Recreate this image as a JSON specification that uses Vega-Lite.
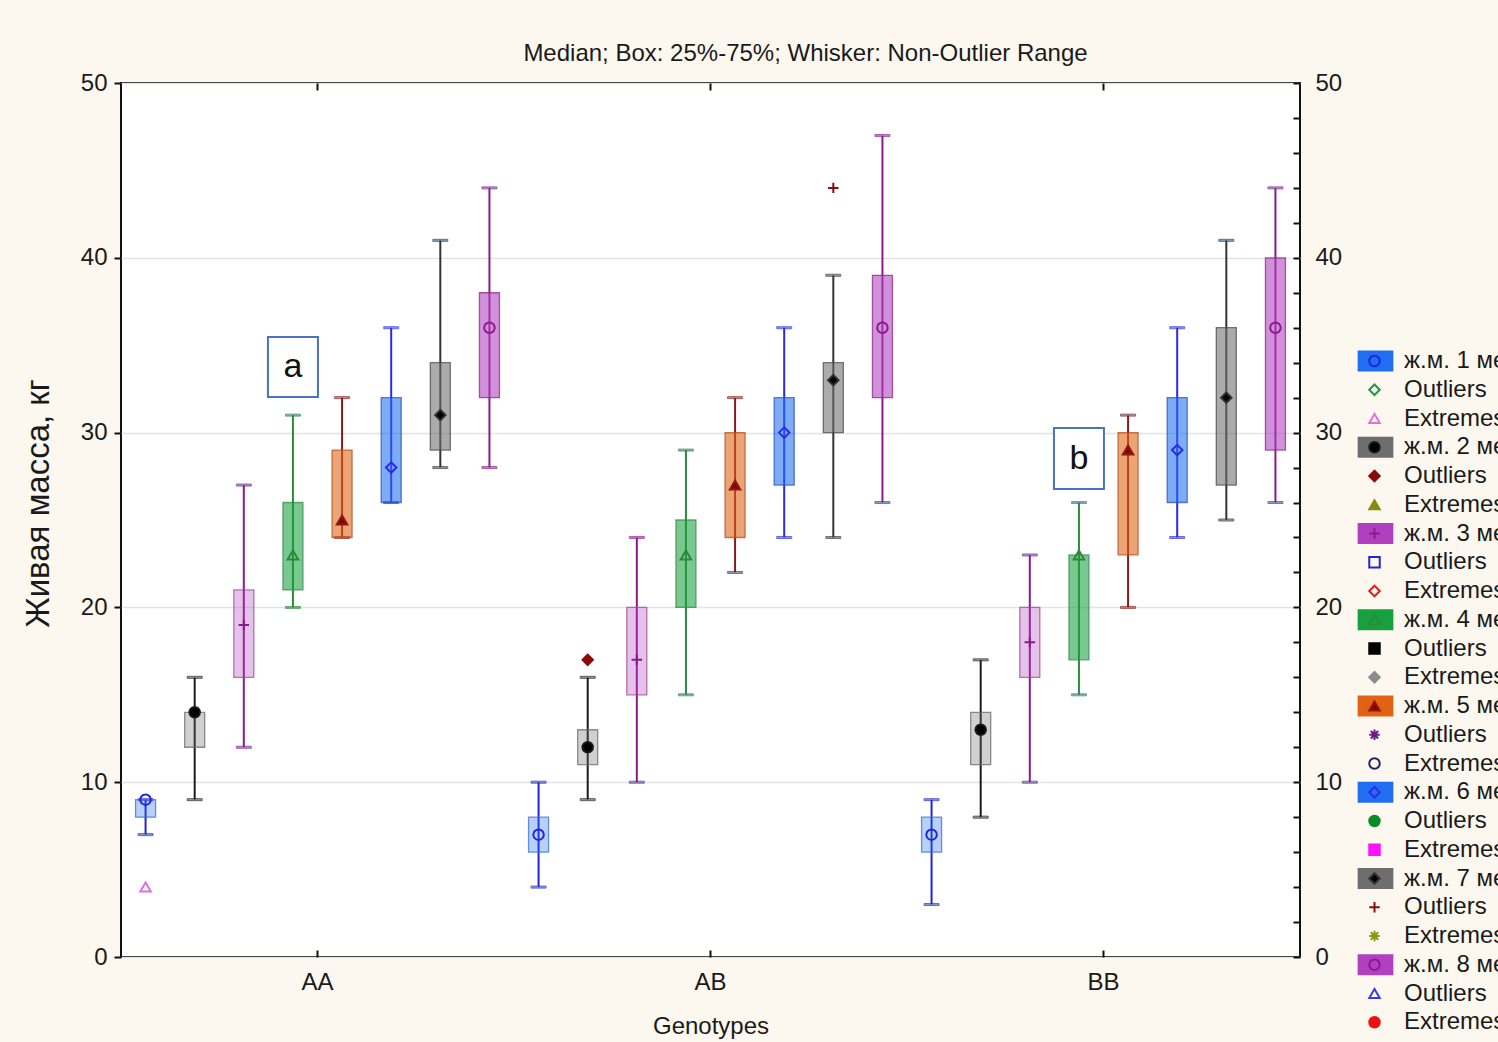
{
"$schema": "https://vega.github.io/schema/vega-lite/v6.json",
"width": 1179,
"height": 874,
"autosize": {"type": "none"},
"padding": {"left": 121, "top": 83, "right": 198, "bottom": 85},
"background": "#fcf8ef",
"title": {"text": "Median; Box: 25%-75%; Whisker: Non-Outlier Range", "anchor": "middle", "dx": 95, "dy": 36, "offset": 22, "baseline": "alphabetic", "fontSize": 24, "fontWeight": "normal", "font": "Liberation Sans", "color": "#1a1a1a"},
"config": {
  "view": {"fill": "#ffffff", "stroke": "#111111", "strokeWidth": 2},
  "axis": {"labelFont": "Liberation Sans", "titleFont": "Liberation Sans", "labelFontSize": 24, "titleFontSize": 24, "titleFontWeight": "normal", "labelColor": "#1a1a1a", "titleColor": "#1a1a1a", "tickColor": "#111111", "tickWidth": 2, "domain": false},
  "legend": {"labelFont": "Liberation Sans", "labelFontSize": 24, "labelColor": "#1a1a1a", "rowPadding": 4.75, "padding": 0, "symbolLimit": 40, "labelLimit": 400}
},
"datasets": {
  "boxes": [
    {"g":"AA","s":"ж.м. 1 мес.","lo":7,"q1":8,"q3":9,"hi":9},
    {"g":"AA","s":"ж.м. 2 мес.","lo":9,"q1":12,"q3":14,"hi":16},
    {"g":"AA","s":"ж.м. 3 мес.","lo":12,"q1":16,"q3":21,"hi":27},
    {"g":"AA","s":"ж.м. 4 мес.","lo":20,"q1":21,"q3":26,"hi":31},
    {"g":"AA","s":"ж.м. 5 мес.","lo":24,"q1":24,"q3":29,"hi":32},
    {"g":"AA","s":"ж.м. 6 мес.","lo":26,"q1":26,"q3":32,"hi":36},
    {"g":"AA","s":"ж.м. 7 мес.","lo":28,"q1":29,"q3":34,"hi":41},
    {"g":"AA","s":"ж.м. 8 мес.","lo":28,"q1":32,"q3":38,"hi":44},
    {"g":"AB","s":"ж.м. 1 мес.","lo":4,"q1":6,"q3":8,"hi":10},
    {"g":"AB","s":"ж.м. 2 мес.","lo":9,"q1":11,"q3":13,"hi":16},
    {"g":"AB","s":"ж.м. 3 мес.","lo":10,"q1":15,"q3":20,"hi":24},
    {"g":"AB","s":"ж.м. 4 мес.","lo":15,"q1":20,"q3":25,"hi":29},
    {"g":"AB","s":"ж.м. 5 мес.","lo":22,"q1":24,"q3":30,"hi":32},
    {"g":"AB","s":"ж.м. 6 мес.","lo":24,"q1":27,"q3":32,"hi":36},
    {"g":"AB","s":"ж.м. 7 мес.","lo":24,"q1":30,"q3":34,"hi":39},
    {"g":"AB","s":"ж.м. 8 мес.","lo":26,"q1":32,"q3":39,"hi":47},
    {"g":"BB","s":"ж.м. 1 мес.","lo":3,"q1":6,"q3":8,"hi":9},
    {"g":"BB","s":"ж.м. 2 мес.","lo":8,"q1":11,"q3":14,"hi":17},
    {"g":"BB","s":"ж.м. 3 мес.","lo":10,"q1":16,"q3":20,"hi":23},
    {"g":"BB","s":"ж.м. 4 мес.","lo":15,"q1":17,"q3":23,"hi":26},
    {"g":"BB","s":"ж.м. 5 мес.","lo":20,"q1":23,"q3":30,"hi":31},
    {"g":"BB","s":"ж.м. 6 мес.","lo":24,"q1":26,"q3":32,"hi":36},
    {"g":"BB","s":"ж.м. 7 мес.","lo":25,"q1":27,"q3":36,"hi":41},
    {"g":"BB","s":"ж.м. 8 мес.","lo":26,"q1":29,"q3":40,"hi":44}
  ],
  "pts": [
    {"g":"AA","s":"ж.м. 1 мес.","k":"ж.м. 1 мес.","v":9},
    {"g":"AA","s":"ж.м. 2 мес.","k":"ж.м. 2 мес.","v":14},
    {"g":"AA","s":"ж.м. 3 мес.","k":"ж.м. 3 мес.","v":19},
    {"g":"AA","s":"ж.м. 4 мес.","k":"ж.м. 4 мес.","v":23},
    {"g":"AA","s":"ж.м. 5 мес.","k":"ж.м. 5 мес.","v":25},
    {"g":"AA","s":"ж.м. 6 мес.","k":"ж.м. 6 мес.","v":28},
    {"g":"AA","s":"ж.м. 7 мес.","k":"ж.м. 7 мес.","v":31},
    {"g":"AA","s":"ж.м. 8 мес.","k":"ж.м. 8 мес.","v":36},
    {"g":"AB","s":"ж.м. 1 мес.","k":"ж.м. 1 мес.","v":7},
    {"g":"AB","s":"ж.м. 2 мес.","k":"ж.м. 2 мес.","v":12},
    {"g":"AB","s":"ж.м. 3 мес.","k":"ж.м. 3 мес.","v":17},
    {"g":"AB","s":"ж.м. 4 мес.","k":"ж.м. 4 мес.","v":23},
    {"g":"AB","s":"ж.м. 5 мес.","k":"ж.м. 5 мес.","v":27},
    {"g":"AB","s":"ж.м. 6 мес.","k":"ж.м. 6 мес.","v":30},
    {"g":"AB","s":"ж.м. 7 мес.","k":"ж.м. 7 мес.","v":33},
    {"g":"AB","s":"ж.м. 8 мес.","k":"ж.м. 8 мес.","v":36},
    {"g":"BB","s":"ж.м. 1 мес.","k":"ж.м. 1 мес.","v":7},
    {"g":"BB","s":"ж.м. 2 мес.","k":"ж.м. 2 мес.","v":13},
    {"g":"BB","s":"ж.м. 3 мес.","k":"ж.м. 3 мес.","v":18},
    {"g":"BB","s":"ж.м. 4 мес.","k":"ж.м. 4 мес.","v":23},
    {"g":"BB","s":"ж.м. 5 мес.","k":"ж.м. 5 мес.","v":29},
    {"g":"BB","s":"ж.м. 6 мес.","k":"ж.м. 6 мес.","v":29},
    {"g":"BB","s":"ж.м. 7 мес.","k":"ж.м. 7 мес.","v":32},
    {"g":"BB","s":"ж.м. 8 мес.","k":"ж.м. 8 мес.","v":36},
    {"g":"AA","s":"ж.м. 1 мес.","k":"e1","v":4},
    {"g":"AB","s":"ж.м. 2 мес.","k":"o2","v":17},
    {"g":"AB","s":"ж.м. 7 мес.","k":"o7","v":44}
  ],
  "notes": [
    {"g":"AA","s":"ж.м. 4 мес.","lo":32.04,"hi":35.47,"mid":33.75,"label":"a"},
    {"g":"BB","s":"ж.м. 4 мес.","lo":26.77,"hi":30.26,"mid":28.5,"label":"b"}
  ]
},
"resolve": {
  "scale": {"stroke": "independent"},
  "legend": {"shape": "independent", "fill": "independent", "stroke": "independent"},
  "axis": {"x": "independent", "y": "independent"}
},
"layer": [
  {
    "data": {"name": "boxes"},
    "mark": {"type": "rule", "strokeWidth": 2},
    "encoding": {
      "x": {"field": "g", "type": "nominal", "scale": {"domain": ["AA","AB","BB"], "paddingInner": 0, "paddingOuter": 0}, "axis": {"orient": "bottom", "labelAngle": 0, "tickSize": -7, "labelPadding": 20, "title": "Genotypes", "titlePadding": 20}},
      "xOffset": {"field": "s", "type": "nominal", "scale": {"domain": ["ж.м. 1 мес.","ж.м. 2 мес.","ж.м. 3 мес.","ж.м. 4 мес.","ж.м. 5 мес.","ж.м. 6 мес.","ж.м. 7 мес.","ж.м. 8 мес."], "paddingInner": 0, "paddingOuter": 0}},
      "y": {"field": "lo", "type": "quantitative", "scale": {"domain": [0, 50], "nice": false}, "axis": {"orient": "left", "values": [0,10,20,30,40,50], "tickSize": 7, "labelPadding": 7, "grid": true, "gridColor": "#e3e3e3", "gridWidth": 1.5, "title": "Живая масса, кг", "titleFontSize": 33, "titlePadding": 25, "titleY": 420}},
      "y2": {"field": "hi"},
      "stroke": {"field": "s", "type": "nominal", "scale": {"domain": ["ж.м. 1 мес.","ж.м. 2 мес.","ж.м. 3 мес.","ж.м. 4 мес.","ж.м. 5 мес.","ж.м. 6 мес.","ж.м. 7 мес.","ж.м. 8 мес."], "range": ["#2323d8","#1a1a1a","#8b1a8b","#2a8a3a","#8b1a1a","#2a2ae8","#333333","#8b1a8b"]}, "legend": null}
    }
  },
  {
    "data": {"name": "boxes"},
    "mark": {"type": "tick", "thickness": 2, "size": 15},
    "encoding": {
      "x": {"field": "g", "type": "nominal", "scale": {"domain": ["AA","AB","BB"], "paddingInner": 0, "paddingOuter": 0}, "axis": null},
      "xOffset": {"field": "s", "type": "nominal", "scale": {"domain": ["ж.м. 1 мес.","ж.м. 2 мес.","ж.м. 3 мес.","ж.м. 4 мес.","ж.м. 5 мес.","ж.м. 6 мес.","ж.м. 7 мес.","ж.м. 8 мес."], "paddingInner": 0, "paddingOuter": 0}},
      "y": {"field": "lo", "type": "quantitative", "scale": {"domain": [0, 50], "nice": false}, "axis": null},
      "stroke": {"field": "s", "type": "nominal", "scale": {"domain": ["ж.м. 1 мес.","ж.м. 2 мес.","ж.м. 3 мес.","ж.м. 4 мес.","ж.м. 5 мес.","ж.м. 6 мес.","ж.м. 7 мес.","ж.м. 8 мес."], "range": ["#2323d8","#1a1a1a","#8b1a8b","#2a8a3a","#8b1a1a","#2a2ae8","#333333","#8b1a8b"]}, "legend": null}
    }
  },
  {
    "data": {"name": "boxes"},
    "mark": {"type": "tick", "thickness": 2, "size": 15},
    "encoding": {
      "x": {"field": "g", "type": "nominal", "scale": {"domain": ["AA","AB","BB"], "paddingInner": 0, "paddingOuter": 0}, "axis": {"orient": "top", "labels": false, "tickSize": -7, "title": null, "grid": false}},
      "xOffset": {"field": "s", "type": "nominal", "scale": {"domain": ["ж.м. 1 мес.","ж.м. 2 мес.","ж.м. 3 мес.","ж.м. 4 мес.","ж.м. 5 мес.","ж.м. 6 мес.","ж.м. 7 мес.","ж.м. 8 мес."], "paddingInner": 0, "paddingOuter": 0}},
      "y": {"field": "hi", "type": "quantitative", "scale": {"domain": [0, 50], "nice": false}, "axis": {"orient": "right", "values": [0,2,4,6,8,10,12,14,16,18,20,22,24,26,28,30,32,34,36,38,40,42,44,46,48,50], "labelExpr": "datum.value % 10 == 0 ? datum.label : ''", "tickSize": -7, "labelPadding": 22, "title": null, "grid": false}},
      "stroke": {"field": "s", "type": "nominal", "scale": {"domain": ["ж.м. 1 мес.","ж.м. 2 мес.","ж.м. 3 мес.","ж.м. 4 мес.","ж.м. 5 мес.","ж.м. 6 мес.","ж.м. 7 мес.","ж.м. 8 мес."], "range": ["#2323d8","#1a1a1a","#8b1a8b","#2a8a3a","#8b1a1a","#2a2ae8","#333333","#8b1a8b"]}, "legend": null}
    }
  },
  {
    "data": {"name": "boxes"},
    "mark": {"type": "bar", "width": 20},
    "encoding": {
      "x": {"field": "g", "type": "nominal", "scale": {"domain": ["AA","AB","BB"], "paddingInner": 0, "paddingOuter": 0}, "axis": null},
      "xOffset": {"field": "s", "type": "nominal", "scale": {"domain": ["ж.м. 1 мес.","ж.м. 2 мес.","ж.м. 3 мес.","ж.м. 4 мес.","ж.м. 5 мес.","ж.м. 6 мес.","ж.м. 7 мес.","ж.м. 8 мес."], "paddingInner": 0, "paddingOuter": 0}},
      "y": {"field": "q1", "type": "quantitative", "scale": {"domain": [0, 50], "nice": false}, "axis": null},
      "y2": {"field": "q3"},
      "fillOpacity": {"condition": {"test": "indexof(['ж.м. 1 мес.','ж.м. 2 мес.','ж.м. 3 мес.'], datum.s) >= 0", "value": 0.32}, "value": 0.58},
      "color": {
        "field": "s", "type": "nominal",
        "scale": {
          "domain": ["ж.м. 1 мес.","Outliers 1","Extremes 1","ж.м. 2 мес.","Outliers 2","Extremes 2","ж.м. 3 мес.","Outliers 3","Extremes 3","ж.м. 4 мес.","Outliers 4","Extremes 4","ж.м. 5 мес.","Outliers 5","Extremes 5","ж.м. 6 мес.","Outliers 6","Extremes 6","ж.м. 7 мес.","Outliers 7","Extremes 7","ж.м. 8 мес.","Outliers 8","Extremes 8"],
          "range": ["#1f6ff0","transparent","transparent","#6e6e6e","transparent","transparent","#b040c0","transparent","transparent","#17a03e","transparent","transparent","#e06212","transparent","transparent","#1f6ff0","transparent","transparent","#6e6e6e","transparent","transparent","#b040c0","transparent","transparent"]
        },
        "legend": {
          "orient": "none", "legendX": 1242.5, "legendY": 266, "title": null, "rowPadding": 4.75,
          "symbolType": "M-1.7,-1H1.7V1H-1.7Z", "symbolSize": 441, "symbolStrokeWidth": 0, "symbolOpacity": 1, "labelOffset": 16.5,
          "labelExpr": "indexof(datum.label,'ж') == 0 ? datum.label : split(datum.label,' ')[0]"
        }
      }
    }
  },
  {
    "data": {"name": "boxes"},
    "mark": {"type": "bar", "width": 20, "fill": "transparent", "strokeWidth": 1.3, "strokeOpacity": 0.75},
    "encoding": {
      "x": {"field": "g", "type": "nominal", "scale": {"domain": ["AA","AB","BB"], "paddingInner": 0, "paddingOuter": 0}, "axis": null},
      "xOffset": {"field": "s", "type": "nominal", "scale": {"domain": ["ж.м. 1 мес.","ж.м. 2 мес.","ж.м. 3 мес.","ж.м. 4 мес.","ж.м. 5 мес.","ж.м. 6 мес.","ж.м. 7 мес.","ж.м. 8 мес."], "paddingInner": 0, "paddingOuter": 0}},
      "y": {"field": "q1", "type": "quantitative", "scale": {"domain": [0, 50], "nice": false}, "axis": null},
      "y2": {"field": "q3"},
      "stroke": {"field": "s", "type": "nominal", "scale": {"domain": ["ж.м. 1 мес.","ж.м. 2 мес.","ж.м. 3 мес.","ж.м. 4 мес.","ж.м. 5 мес.","ж.м. 6 мес.","ж.м. 7 мес.","ж.м. 8 мес."], "range": ["#3a6fd0","#6a6a6a","#9a4a9a","#3a8a50","#b05020","#2a50c0","#4a4a4a","#8b2a8b"]}, "legend": null}
    }
  },
  {
    "data": {"name": "pts"},
    "mark": {"type": "point", "size": 110, "strokeWidth": 2, "opacity": 1},
    "encoding": {
      "x": {"field": "g", "type": "nominal", "scale": {"domain": ["AA","AB","BB"], "paddingInner": 0, "paddingOuter": 0}, "axis": null},
      "xOffset": {"field": "s", "type": "nominal", "scale": {"domain": ["ж.м. 1 мес.","ж.м. 2 мес.","ж.м. 3 мес.","ж.м. 4 мес.","ж.м. 5 мес.","ж.м. 6 мес.","ж.м. 7 мес.","ж.м. 8 мес."], "paddingInner": 0, "paddingOuter": 0}},
      "y": {"field": "v", "type": "quantitative", "scale": {"domain": [0, 50], "nice": false}, "axis": null},
      "shape": {
        "field": "k", "type": "nominal",
        "scale": {
          "domain": ["ж.м. 1 мес.","o1","e1","ж.м. 2 мес.","o2","e2","ж.м. 3 мес.","o3","e3","ж.м. 4 мес.","o4","e4","ж.м. 5 мес.","o5","e5","ж.м. 6 мес.","o6","e6","ж.м. 7 мес.","o7","e7","ж.м. 8 мес.","o8","e8"],
          "range": ["circle","diamond","triangle-up","circle","diamond","triangle-up","M-1,0H1M0,-1V1","square","diamond","triangle-up","square","diamond","triangle-up","M-1,0H1M0,-1V1M-0.7,-0.7L0.7,0.7M-0.7,0.7L0.7,-0.7","circle","diamond","circle","square","diamond","M-1,0H1M0,-1V1","M-1,0H1M0,-1V1M-0.7,-0.7L0.7,0.7M-0.7,0.7L0.7,-0.7","circle","triangle-up","circle"]
        },
        "legend": {"orient": "none", "legendX": 1241.5, "legendY": 266, "title": null, "symbolSize": 110, "symbolStrokeWidth": 2, "labelExpr": "''"}
      },
      "fill": {
        "field": "k", "type": "nominal",
        "scale": {
          "domain": ["ж.м. 1 мес.","o1","e1","ж.м. 2 мес.","o2","e2","ж.м. 3 мес.","o3","e3","ж.м. 4 мес.","o4","e4","ж.м. 5 мес.","o5","e5","ж.м. 6 мес.","o6","e6","ж.м. 7 мес.","o7","e7","ж.м. 8 мес.","o8","e8"],
          "range": ["transparent","transparent","transparent","#000000","#8b0a0a","#8a8a10","transparent","transparent","transparent","transparent","#000000","#8c8c8c","#8b0000","transparent","transparent","transparent","#0a8a2a","#ff10ff","#000000","transparent","transparent","transparent","transparent","#ee1010"]
        },
        "legend": {"orient": "none", "legendX": 1241.5, "legendY": 266, "title": null, "symbolSize": 110, "symbolStrokeWidth": 2, "labelExpr": "''"}
      },
      "stroke": {
        "field": "k", "type": "nominal",
        "scale": {"domain": ["ж.м. 1 мес.","o1","e1","ж.м. 2 мес.","o2","e2","ж.м. 3 мес.","o3","e3","ж.м. 4 мес.","o4","e4","ж.м. 5 мес.","o5","e5","ж.м. 6 мес.","o6","e6","ж.м. 7 мес.","o7","e7","ж.м. 8 мес.","o8","e8"], "range": ["#2323d8","#1a9a3a","#e070e0","#1a1a1a","#8b0a0a","#8a8a10","#8b1a8b","#2323d8","#e02020","#2a8a3a","#000000","#8c8c8c","#8b1a1a","#6a1a8a","#202070","#2a2ae8","#0a8a2a","#ff10ff","#333333","#8b0a0a","#8a9a10","#8b1a8b","#3a3ae0","#ee1010"]},
        "legend": {"orient": "none", "legendX": 1241.5, "legendY": 266, "title": null, "symbolSize": 110, "symbolStrokeWidth": 2, "labelExpr": "''"}
      }
    }
  },
  {
    "data": {"name": "notes"},
    "mark": {"type": "bar", "width": 50, "fill": "#ffffff", "stroke": "#4a72c4", "strokeWidth": 2},
    "encoding": {
      "x": {"field": "g", "type": "nominal", "scale": {"domain": ["AA","AB","BB"], "paddingInner": 0, "paddingOuter": 0}, "axis": null},
      "xOffset": {"field": "s", "type": "nominal", "scale": {"domain": ["ж.м. 1 мес.","ж.м. 2 мес.","ж.м. 3 мес.","ж.м. 4 мес.","ж.м. 5 мес.","ж.м. 6 мес.","ж.м. 7 мес.","ж.м. 8 мес."], "paddingInner": 0, "paddingOuter": 0}},
      "y": {"field": "lo", "type": "quantitative", "scale": {"domain": [0, 50], "nice": false}, "axis": null},
      "y2": {"field": "hi"}
    }
  },
  {
    "data": {"name": "notes"},
    "mark": {"type": "text", "fontSize": 34, "font": "Liberation Sans", "color": "#111111", "baseline": "middle"},
    "encoding": {
      "x": {"field": "g", "type": "nominal", "scale": {"domain": ["AA","AB","BB"], "paddingInner": 0, "paddingOuter": 0}, "axis": null},
      "xOffset": {"field": "s", "type": "nominal", "scale": {"domain": ["ж.м. 1 мес.","ж.м. 2 мес.","ж.м. 3 мес.","ж.м. 4 мес.","ж.м. 5 мес.","ж.м. 6 мес.","ж.м. 7 мес.","ж.м. 8 мес."], "paddingInner": 0, "paddingOuter": 0}},
      "y": {"field": "mid", "type": "quantitative", "scale": {"domain": [0, 50], "nice": false}, "axis": null},
      "text": {"field": "label", "type": "nominal"}
    }
  }
]
}
